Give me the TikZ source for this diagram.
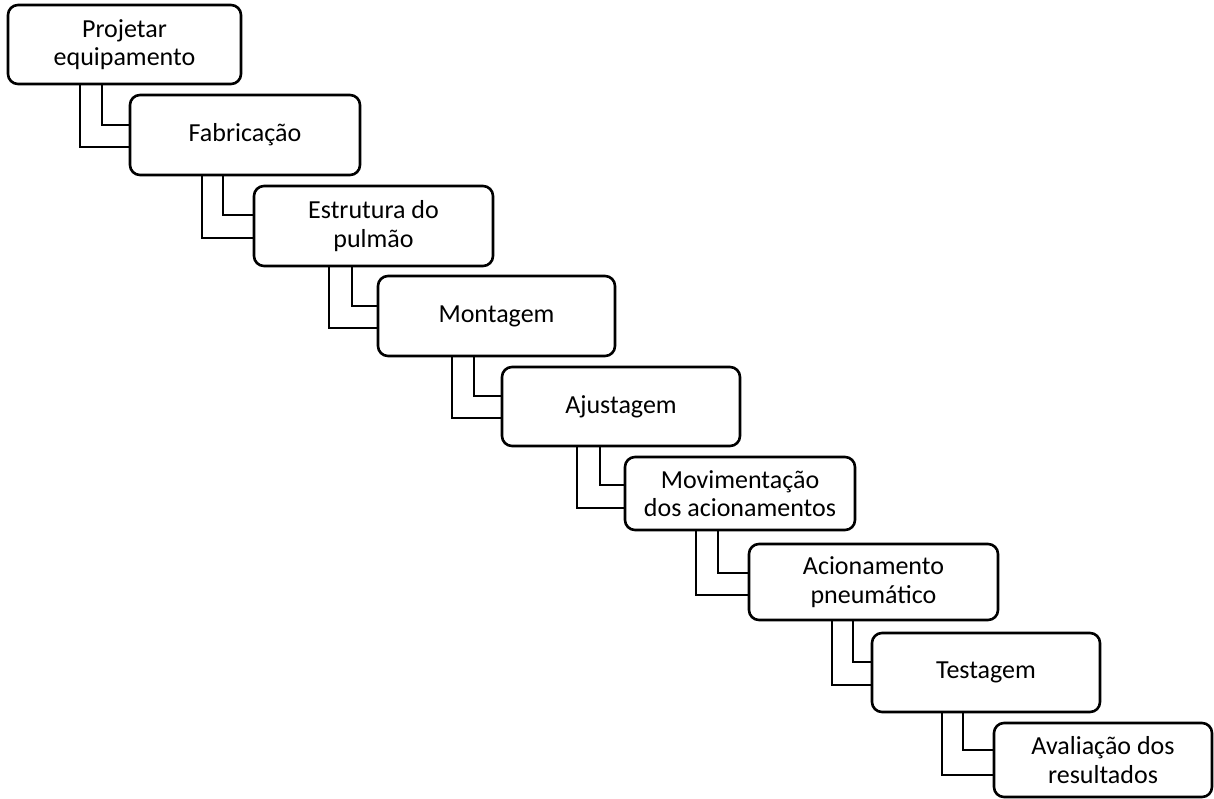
\documentclass[tikz,border=0pt]{standalone}
\usepackage{fontspec}
\setmainfont{Carlito}
\begin{document}
\begin{tikzpicture}[x=1pt,y=-1pt,
  stagebox/.style={draw=black, line width=2.6pt, rounded corners=10pt, fill=white,
    align=center, inner sep=0pt, font=\fontsize{26}{28.5}\selectfont},
  link/.style={draw=black, line width=2.6pt}]
\useasboundingbox (0,0) rectangle (1214,798);
\node[stagebox, minimum width=233pt, minimum height=79pt] (b1) at (124.5,44.5) {Projetar\\equipamento};
\node[stagebox, minimum width=230pt, minimum height=80pt] (b2) at (245,135) {Fabricação};
\node[stagebox, minimum width=239pt, minimum height=80pt] (b3) at (373.5,226) {Estrutura do\\pulmão};
\node[stagebox, minimum width=237pt, minimum height=80pt] (b4) at (496.5,316) {Montagem};
\node[stagebox, minimum width=238pt, minimum height=79pt] (b5) at (621,406.5) {Ajustagem};
\node[stagebox, minimum width=230pt, minimum height=73pt] (b6) at (740,493.5) {Movimentação\\dos acionamentos};
\node[stagebox, minimum width=249pt, minimum height=76pt] (b7) at (873.5,582) {Acionamento\\pneumático};
\node[stagebox, minimum width=228pt, minimum height=79pt] (b8) at (986,672.5) {Testagem};
\node[stagebox, minimum width=218pt, minimum height=74pt] (b9) at (1103,760) {Avaliação dos\\resultados};
% connectors: outer and inner lines
\draw[link] (b1.south -| 80,0) |- (b2.west |- 0,147);
\draw[link] (b1.south -| 102,0) |- (b2.west |- 0,125);
\draw[link] (b2.south -| 202,0) |- (b3.west |- 0,238);
\draw[link] (b2.south -| 223,0) |- (b3.west |- 0,215);
\draw[link] (b3.south -| 329,0) |- (b4.west |- 0,328);
\draw[link] (b3.south -| 352,0) |- (b4.west |- 0,306);
\draw[link] (b4.south -| 452,0) |- (b5.west |- 0,418);
\draw[link] (b4.south -| 474,0) |- (b5.west |- 0,396);
\draw[link] (b5.south -| 577,0) |- (b6.west |- 0,508);
\draw[link] (b5.south -| 600,0) |- (b6.west |- 0,485);
\draw[link] (b6.south -| 696,0) |- (b7.west |- 0,595);
\draw[link] (b6.south -| 718,0) |- (b7.west |- 0,573);
\draw[link] (b7.south -| 832,0) |- (b8.west |- 0,685);
\draw[link] (b7.south -| 853,0) |- (b8.west |- 0,662);
\draw[link] (b8.south -| 942,0) |- (b9.west |- 0,775);
\draw[link] (b8.south -| 963,0) |- (b9.west |- 0,750);
\end{tikzpicture}
\end{document}
